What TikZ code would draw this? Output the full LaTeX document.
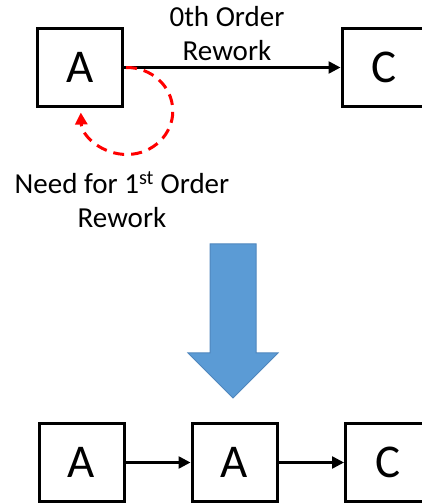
\documentclass[tikz,border=0pt]{standalone}
\usepackage{fontspec}
\setmainfont{Carlito}
\usetikzlibrary{arrows.meta}
\definecolor{bigblue}{HTML}{5B9BD5}
\definecolor{bigblueline}{HTML}{4F86BD}
\tikzset{
  task/.style={draw, line width=3pt, minimum width=85pt, minimum height=78pt, inner sep=0pt, font=\fontsize{47}{50}\selectfont},
  flow/.style={line width=2.5pt, -{Triangle[length=12pt,width=12pt]}},
  rework/.style={red, line width=3pt, dash pattern=on 11pt off 7pt, -{Triangle[length=12pt,width=12pt]}},
  note/.style={align=center, font=\fontsize{29}{34}\selectfont}
}
\begin{document}
\begin{tikzpicture}[x=1pt, y=1pt]
\useasboundingbox (0,0) rectangle (422,504);
\clip (0,0) rectangle (422,504);
% before
\node[task] (topA) at (80,436.5) {A};
\node[task] (topC) at (384.5,436.5) {C};
\draw[flow] (topA) -- (topC);
\node[note] (zero) at (227,470) {0th Order\\Rework};
\draw[rework] ([xshift=2pt]topA.east) arc[start angle=91, end angle=-178, x radius=46, y radius=43.5];
\node[note] (first) at (122,304) {Need for 1\textsuperscript{st} Order\\Rework};
% big arrow
\draw[bigblueline, fill=bigblue, line width=1pt] (210,260) -- (256,260) -- (256,151) -- (278,151) -- (233,106) -- (188,151) -- (210,151) -- cycle;
% after
\node[task] (botA) at (81.5,41.5) {A};
\node[task] (midA) at (234.5,41.5) {A};
\node[task] (botC) at (388,41.5) {C};
\draw[flow] (botA) -- (midA);
\draw[flow] (midA) -- (botC);
\end{tikzpicture}
\end{document}
